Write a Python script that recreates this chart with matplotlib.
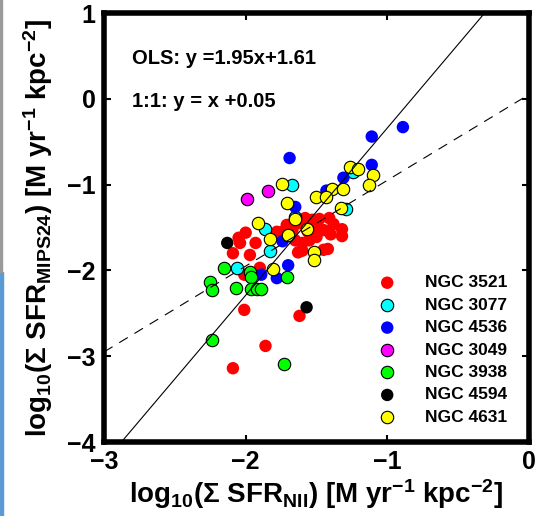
import matplotlib
matplotlib.use("Agg")
import matplotlib.pyplot as plt
from matplotlib.patches import Rectangle

plt.rcParams['font.family'] = ['Liberation Sans', 'DejaVu Sans']
plt.rcParams['font.weight'] = 'bold'
plt.rcParams['mathtext.fontset'] = 'custom'
plt.rcParams['mathtext.rm'] = 'Liberation Sans:bold'
plt.rcParams['mathtext.bf'] = 'Liberation Sans:bold'
plt.rcParams['mathtext.it'] = 'Liberation Sans:bold'

# log10 SFR(NII) , log10 SFR(MIPS24) per galaxy
n3521_x = [-2.09, -1.86, -1.62, -2.01, -2.01, -1.90, -1.63, -2.09, -1.97, -2.05, -2.00, -1.93,
           -2.04, -1.78, -1.69, -1.71, -1.67, -1.62, -1.58, -1.53, -1.48, -1.41, -1.38, -1.45,
           -1.40, -1.50, -1.55, -1.60, -1.60, -1.45, -1.42, -1.32, -1.32, -1.49, -1.56, -1.65,
           -1.74]
n3521_y = [-3.14, -2.88, -2.53, -2.46, -2.05, -1.97, -1.79, -1.80, -1.82, -1.62, -1.56, -1.68,
           -1.68, -1.55, -1.47, -1.47, -1.53, -1.45, -1.39, -1.41, -1.40, -1.39, -1.46, -1.53,
           -1.58, -1.61, -1.65, -1.68, -1.77, -1.76, -1.75, -1.52, -1.60, -1.49, -1.55, -1.65,
           -1.55]
n3077_x = [-1.67, -1.24, -1.29, -1.65, -1.86, -1.83, -2.06]
n3077_y = [-1.00, -0.85, -1.28, -1.38, -1.52, -1.77, -1.97]
n4536_x = [-0.89, -1.11, -1.69, -1.11, -1.31, -1.43, -1.65, -1.74, -1.70, -1.89, -1.78]
n4536_y = [-0.33, -0.44, -0.69, -0.77, -0.92, -1.07, -1.26, -1.66, -1.94, -2.05, -2.09]
n3049_x = [-1.99, -1.84]
n3049_y = [-1.17, -1.07]
n3938_x = [-2.15, -1.97, -1.96, -2.25, -2.24, -2.07, -1.96, -1.92, -1.89, -1.71, -2.24, -1.73]
n3938_y = [-1.97, -2.02, -2.08, -2.14, -2.23, -2.21, -2.22, -2.22, -2.22, -2.08, -2.81, -3.09]
n4594_x = [-2.13, -1.57]
n4594_y = [-1.68, -2.43]
n4631_x = [-1.74, -1.26, -1.21, -1.10, -1.13, -1.39, -1.31, -1.50, -1.43, -1.71, -1.33, -1.65,
           -1.91, -1.57, -1.70, -1.83, -1.52, -1.52, -1.81]
n4631_y = [-0.99, -0.79, -0.82, -0.89, -1.00, -1.05, -1.05, -1.14, -1.14, -1.21, -1.27, -1.40,
           -1.45, -1.52, -1.59, -1.63, -1.79, -1.88, -1.98]

ols_slope, ols_icpt = 1.95, 1.61
one_icpt = 0.05

fig = plt.figure(figsize=(5.4, 5.16), dpi=100)
# left border strip of the screenshot
fig.patches.append(Rectangle((0, 0), 3 / 540, 244 / 516, transform=fig.transFigure,
                             color='#5b9bd5', zorder=0))
fig.patches.append(Rectangle((0, 244 / 516), 1.5 / 540, 272 / 516, transform=fig.transFigure,
                             color='#9a9a9a', zorder=0))

ax = fig.add_axes([0.1926, 0.1434, 0.787, 0.8314])

s = 80
ax.scatter(n3521_x, n3521_y, s=s, c='red', edgecolors='none', label='NGC 3521')
ax.scatter(n3077_x, n3077_y, s=s, c='cyan', edgecolors='black', linewidths=0.8, label='NGC 3077')
ax.scatter(n4536_x, n4536_y, s=s, c='blue', edgecolors='none', label='NGC 4536')
ax.scatter(n3049_x, n3049_y, s=s, c='magenta', edgecolors='black', linewidths=0.8, label='NGC 3049')
ax.scatter(n3938_x, n3938_y, s=s, c='#00ff00', edgecolors='black', linewidths=0.8, label='NGC 3938')
ax.scatter(n4594_x, n4594_y, s=s, c='black', edgecolors='none', label='NGC 4594')
ax.scatter(n4631_x, n4631_y, s=s, c='yellow', edgecolors='black', linewidths=0.8, label='NGC 4631')

xx = [-3, 0]
ax.plot(xx, [ols_slope * v + ols_icpt for v in xx], color='black', lw=0.8)
ax.plot(xx, [v + one_icpt for v in xx], color='black', lw=0.8, dashes=(9, 7))

ax.set_xlim(-3, 0)
ax.set_ylim(-4, 1)
ax.set_xticks([-3, -2, -1, 0])
ax.set_yticks([-4, -3, -2, -1, 0, 1])
for sp in ax.spines.values():
    sp.set_linewidth(4)
ax.tick_params(direction='in', length=5, width=1.5, top=True, right=True,
               labelsize=18, pad=6)

ax.set_xlabel(r'log$_{10}$($\Sigma$ SFR$_{\rm NII}$) [M yr$^{-1}$ kpc$^{-2}$]',
              fontsize=20, fontweight='bold', labelpad=2)
ax.set_ylabel(r'log$_{10}$($\Sigma$ SFR$_{\rm MIPS24}$) [M yr$^{-1}$ kpc$^{-2}$]',
              fontsize=20, fontweight='bold', labelpad=9)

ax.text(0.066, 0.88, 'OLS: y =1.95x+1.61', transform=ax.transAxes, fontsize=14.5,
        fontweight='bold')
ax.text(0.066, 0.782, '1:1: y = x +0.05', transform=ax.transAxes, fontsize=14.5,
        fontweight='bold')

ax.legend(loc='upper left', bbox_to_anchor=(0.646, 0.389), frameon=False,
          scatterpoints=1, handlelength=1.0, handletextpad=1.7, labelspacing=0.42,
          borderpad=0, borderaxespad=0, prop={'weight': 'bold', 'size': 12.5})

fig.savefig('out.png', dpi=100)
